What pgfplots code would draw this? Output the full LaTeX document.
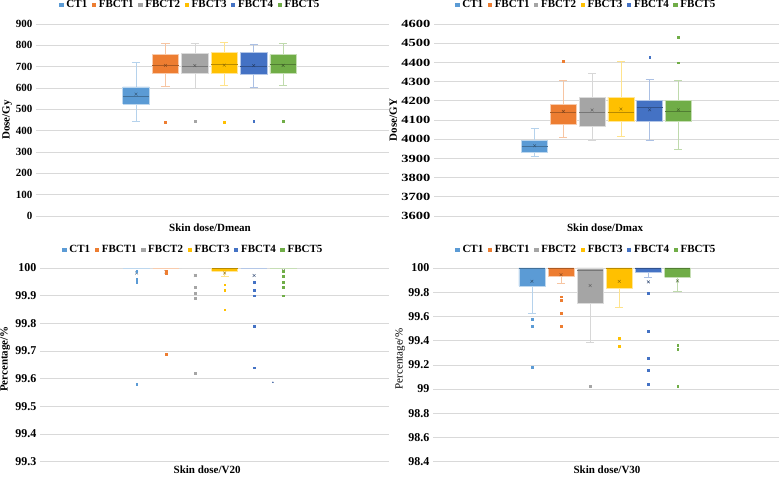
\documentclass[border=0pt]{standalone}
\usepackage{fontspec}
\setmainfont{Liberation Serif}
\newfontfamily\widefont[FakeStretch=1.32]{Liberation Serif}
\usepackage{pgfplots}
\pgfplotsset{compat=1.18}
\definecolor{cA}{HTML}{5B9BD5}
\definecolor{cB}{HTML}{ED7D31}
\definecolor{cC}{HTML}{A5A5A5}
\definecolor{cD}{HTML}{FFC000}
\definecolor{cE}{HTML}{4472C4}
\definecolor{cF}{HTML}{70AD47}
\pgfplotsset{
  base/.style={scale only axis, xmin=0, xmax=12, xtick=\empty,
    ymajorgrids, grid style={draw=black!15, line width=0.6pt},
    axis line style={draw=none}, major tick length=0pt, clip=false,
    tick label style={font=\fontsize{11}{13}\selectfont\bfseries},
    /pgf/number format/assume math mode=true, /pgf/number format/1000 sep={},
    label style={font=\fontsize{11}{13}\selectfont\bfseries},
    legend image code/.code={\fill[##1, draw=none] (0pt,-2.2pt) rectangle (4.4pt,2.2pt); \path (5.9pt,0pt);},
    legend style={draw=none, fill=none, legend columns=6, anchor=center,
      font=\fontsize{11}{13}\selectfont\bfseries, nodes={inner xsep=1pt},
      /tikz/every even column/.append style={column sep=3.5pt}},
  },
}
% #1 colour, #2 position, #3 lower whisker, #4 Q1, #5 median, #6 Q3, #7 upper whisker, #8 mean
\newcommand{\bx}[8]{%
  \pgfmathsetmacro\xl{#2-0.45}\pgfmathsetmacro\xr{#2+0.45}%
  \pgfmathsetmacro\wl{#2-0.14}\pgfmathsetmacro\wr{#2+0.14}%
  \addplot[forget plot, draw=#1!45!white, line width=0.7pt] coordinates {(#2,#6) (#2,#7)};
  \addplot[forget plot, draw=#1!45!white, line width=0.7pt] coordinates {(\wl,#7) (\wr,#7)};
  \addplot[forget plot, draw=#1!45!white, line width=0.7pt] coordinates {(#2,#4) (#2,#3)};
  \addplot[forget plot, draw=#1!45!white, line width=0.7pt] coordinates {(\wl,#3) (\wr,#3)};
  \addplot[forget plot, fill=#1, draw=#1!40!white, line width=0.6pt] coordinates {(\xl,#4) (\xr,#4) (\xr,#6) (\xl,#6) (\xl,#4)};
  \addplot[forget plot, draw=#1!72!black, line width=0.45pt] coordinates {(\xl,#5) (\xr,#5)};
  \addplot[forget plot, only marks, mark=x, mark size=2pt, draw=#1!55!black, line width=0.4pt] coordinates {(#2,#8)};}
% flat box (all quartiles at #3): #1 colour, #2 position, #3 value, #4 mean
\newcommand{\bxf}[4]{%
  \pgfmathsetmacro\xl{#2-0.45}\pgfmathsetmacro\xr{#2+0.45}%
  \addplot[forget plot, draw=#1!40!white, line width=0.9pt] coordinates {(\xl,#3) (\xr,#3)};
  \addplot[forget plot, only marks, mark=x, mark size=2pt, draw=#1!55!black, line width=0.4pt] coordinates {(#2,#4)};}
% outliers: #1 colour, #2 position, #3 values (each followed by \\)
\newcommand{\ol}[3]{%
  \addplot[forget plot, only marks, mark=square*, mark size=0.9pt, draw=#1, fill=#1, line width=0.2pt]
    table[header=false, row sep=\\, x expr=#2, y index=0] {#3};}
\newcommand{\legs}{%
  \addlegendimage{fill=cA}\addlegendentry{CT1}
  \addlegendimage{fill=cB}\addlegendentry{FBCT1}
  \addlegendimage{fill=cC}\addlegendentry{FBCT2}
  \addlegendimage{fill=cD}\addlegendentry{FBCT3}
  \addlegendimage{fill=cE}\addlegendentry{FBCT4}
  \addlegendimage{fill=cF}\addlegendentry{FBCT5}}
\begin{document}
\begin{tikzpicture}
\useasboundingbox (0,0) rectangle (780pt,477pt);
% Panel 1: Dmean
\begin{axis}[base, at={(36pt,261pt)}, anchor=south west, width=353pt, height=192pt,
  ymin=0, ymax=900, ytick={0,100,...,900},
  ylabel={Dose/Gy}, ylabel style={at={(axis description cs:-0.082,0.5)}, anchor=center},
  xlabel={Skin dose/Dmean}, xlabel style={at={(axis description cs:0.493,-0.0625)}, anchor=center},
  legend style={at={(0.436,1.1)}}]
\legs
\bx{cA}{3.4}{446}{525}{563}{605}{720}{571}
\bx{cB}{4.4}{610}{669}{707}{757}{809}{706}\ol{cB}{4.4}{440\\}
\bx{cC}{5.4}{599}{667}{701}{763}{811}{705}\ol{cC}{5.4}{445\\}
\bx{cD}{6.4}{613}{667}{710}{768}{812}{707}\ol{cD}{6.4}{440\\}
\bx{cE}{7.4}{604}{666}{704}{766}{803}{705}\ol{cE}{7.4}{445\\}
\bx{cF}{8.4}{611}{669}{710}{757}{808}{706}\ol{cF}{8.4}{443\\}
\end{axis}
% Panel 2: Dmax
\begin{axis}[base, at={(434pt,261pt)}, anchor=south west, width=345pt, height=192pt,
  ymin=3600, ymax=4600, ytick={3600,3700,...,4600},
  yticklabel style={font=\widefont\fontsize{11}{13}\selectfont\bfseries},
  ylabel={Dose/GY}, ylabel style={at={(axis description cs:-0.118,0.5)}, anchor=center},
  xlabel={Skin dose/Dmax}, xlabel style={at={(axis description cs:0.496,-0.0625)}, anchor=center},
  legend style={at={(0.44,1.1)}}]
\legs
\bx{cA}{3.5}{3909}{3930}{3964}{3994}{4058}{3966}
\bx{cB}{4.5}{4011}{4077}{4138}{4183}{4308}{4145}\ol{cB}{4.5}{4408\\}
\bx{cC}{5.5}{3992}{4067}{4138}{4219}{4344}{4152}
\bx{cD}{6.5}{4016}{4094}{4141}{4219}{4406}{4157}
\bx{cE}{7.5}{3992}{4091}{4164}{4200}{4311}{4153}\ol{cE}{7.5}{4429\\}
\bx{cF}{8.5}{3945}{4093}{4148}{4204}{4308}{4153}\ol{cF}{8.5}{4399\\ 4532\\}
\end{axis}
% Panel 3: V20
\begin{axis}[base, at={(40pt,15.3pt)}, anchor=south west, width=349pt, height=193.7pt,
  ymin=99.3, ymax=100, ytick={99.3,99.4,99.5,99.6,99.7,99.8,99.9,100},
  /pgf/number format/fixed, /pgf/number format/precision=1,
  yticklabel style={font=\fontsize{12}{14}\selectfont\bfseries},
  ylabel={Percentage/\%}, ylabel style={at={(axis description cs:-0.1,0.53)}, anchor=center},
  xlabel={Skin dose/V20}, xlabel style={at={(axis description cs:0.479,-0.043)}, anchor=center},
  legend style={at={(0.438,1.093)}}]
\legs
\bxf{cA}{3.32}{100}{99.982}\ol{cA}{3.32}{99.99\\ 99.96\\ 99.95\\ 99.58\\}
\bxf{cB}{4.33}{100}{99.986}\ol{cB}{4.33}{99.99\\ 99.98\\ 99.69\\}
\bxf{cC}{5.34}{100}{99.973}\ol{cC}{5.34}{99.975\\ 99.93\\ 99.91\\ 99.89\\ 99.62\\}
\bx{cD}{6.35}{99.971}{99.988}{100}{100}{100}{99.982}\ol{cD}{6.35}{99.94\\ 99.92\\ 99.85\\}
\bxf{cE}{7.36}{100}{99.973}\ol{cE}{7.36}{99.95\\ 99.92\\ 99.90\\ 99.79\\ 99.64\\}
\bxf{cF}{8.37}{100}{99.99}\ol{cF}{8.37}{99.99\\ 99.97\\ 99.95\\ 99.93\\ 99.90\\}
\addplot[forget plot, only marks, mark=*, mark size=0.5pt, color=cE!80!black] coordinates {(8.01,99.587)};
\end{axis}
% Panel 4: V30
\begin{axis}[base, at={(433pt,15.3pt)}, anchor=south west, width=346pt, height=193.7pt,
  ymin=98.4, ymax=100, ytick={98.4,98.6,98.8,99,99.2,99.4,99.6,99.8,100},
  /pgf/number format/fixed, /pgf/number format/precision=1,
  yticklabel style={font=\fontsize{12}{14}\selectfont\bfseries},
  ylabel={Percentage/\%}, ylabel style={at={(axis description cs:-0.095,0.53)}, anchor=center, font=\fontsize{11}{13}\selectfont\mdseries},
  xlabel={Skin dose/V30}, xlabel style={at={(axis description cs:0.503,-0.043)}, anchor=center},
  legend style={at={(0.442,1.093)}}]
\legs
\bx{cA}{3.43}{99.625}{99.852}{100}{100}{100}{99.89}\ol{cA}{3.43}{99.58\\ 99.518\\ 99.184\\}
\bx{cB}{4.44}{99.874}{99.929}{100}{100}{100}{99.945}\ol{cB}{4.44}{99.764\\ 99.737\\ 99.625\\ 99.518\\}
\bx{cC}{5.45}{99.386}{99.71}{99.985}{100}{100}{99.855}\ol{cC}{5.45}{99.025\\}
\bx{cD}{6.46}{99.679}{99.83}{100}{100}{100}{99.89}\ol{cD}{6.46}{99.424\\ 99.355\\}
\bx{cE}{7.47}{99.926}{99.962}{100}{100}{100}{99.885}\ol{cE}{7.47}{99.795\\ 99.482\\ 99.254\\ 99.154\\ 99.044\\}
\bx{cF}{8.48}{99.803}{99.923}{100}{100}{100}{99.893}\ol{cF}{8.48}{99.364\\ 99.333\\ 99.025\\}
\end{axis}
\end{tikzpicture}
\end{document}
